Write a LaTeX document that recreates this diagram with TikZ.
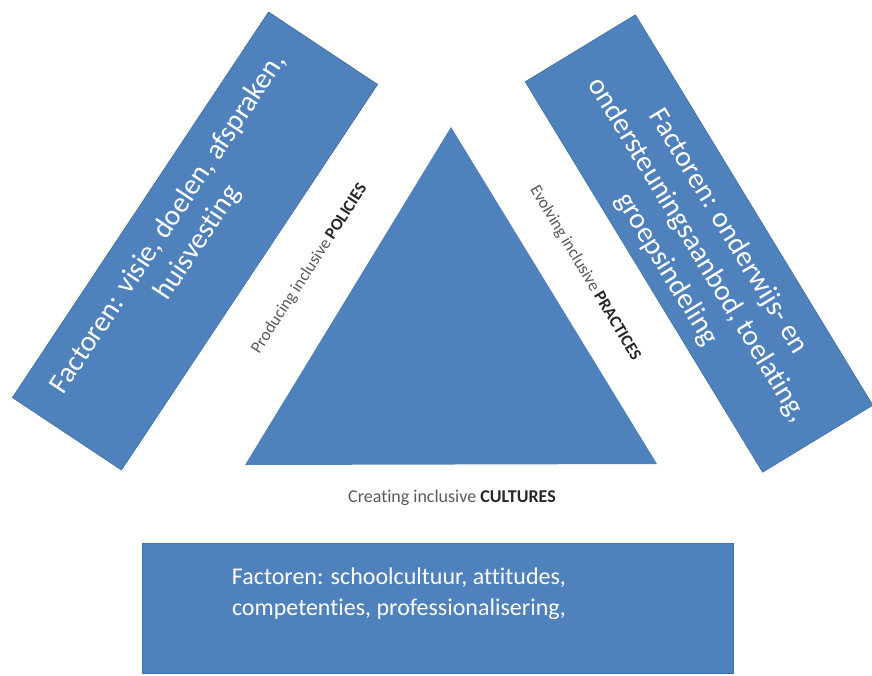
\documentclass[tikz,border=0pt]{standalone}
\usepackage{fontspec}
\setmainfont[Ligatures=NoCommon]{Carlito}
\usetikzlibrary{positioning}

\definecolor{vlakblauw}{HTML}{4F81BD}
\definecolor{randblauw}{HTML}{41719C}
\definecolor{labelgrijs}{HTML}{595959}
\definecolor{labelzwart}{HTML}{262626}

\tikzset{
  factorvlak/.style={draw=randblauw, fill=vlakblauw, line width=0.6pt, inner sep=0pt},
  factortekst/.style={text=white, align=center, inner sep=0pt},
  zijlabel/.style={text=labelgrijs, inner sep=0pt, font=\fontsize{17}{20}\selectfont}
}

\begin{document}
\begin{tikzpicture}[x=1pt,y=-1pt]
  \useasboundingbox (0,0) rectangle (872,675);
  % driehoek
  \coordinate (top) at (451,127);
  \coordinate (linksonder) at (245,465);
  \coordinate (rechtsonder) at (657,464);
  \fill[vlakblauw] (top) -- (linksonder) -- (rechtsonder) -- cycle;
  % vlakken met factoren
  \node[factorvlak, minimum width=463pt, minimum height=131pt, rotate=56.4] (links) at (195,241) {};
  \node[factorvlak, minimum width=457pt, minimum height=129pt, rotate=-58.7] (rechts) at (699,243.5) {};
  \node[factorvlak, minimum width=591pt, minimum height=130pt] (onder) at (437.5,608) {};
  \node[factortekst, rotate=56.4, font=\fontsize{29}{35}\selectfont] (linkstekst) at (183.3,233.3)
    {Factoren: visie, doelen, afspraken,\\huisvesting};
  \node[factortekst, rotate=-58.7, font=\fontsize{29}{36}\selectfont] (rechtstekst) at (697.3,250.4)
    {Factoren: onderwijs- en\\ondersteuningsaanbod, toelating,\\groepsindeling};
  \node[factortekst, font=\fontsize{24}{31}\selectfont] (ondertekst) at (399,594)
    {Factoren: schoolcultuur, attitudes,\\competenties, professionalisering,};
  % labels langs de zijden
  \node[zijlabel, rotate=57] (policies) at (309.5,269)
    {Producing inclusive \textcolor{labelzwart}{\textbf{POLICIES}}};
  \node[zijlabel, rotate=-59] (practices) at (585,273)
    {Evolving inclusive \textcolor{labelzwart}{\textbf{PRACTICES}}};
  \node[zijlabel, font=\fontsize{18}{21}\selectfont] (cultures) at (452,498)
    {Creating inclusive \textcolor{labelzwart}{\textbf{CULTURES}}};
\end{tikzpicture}
\end{document}
